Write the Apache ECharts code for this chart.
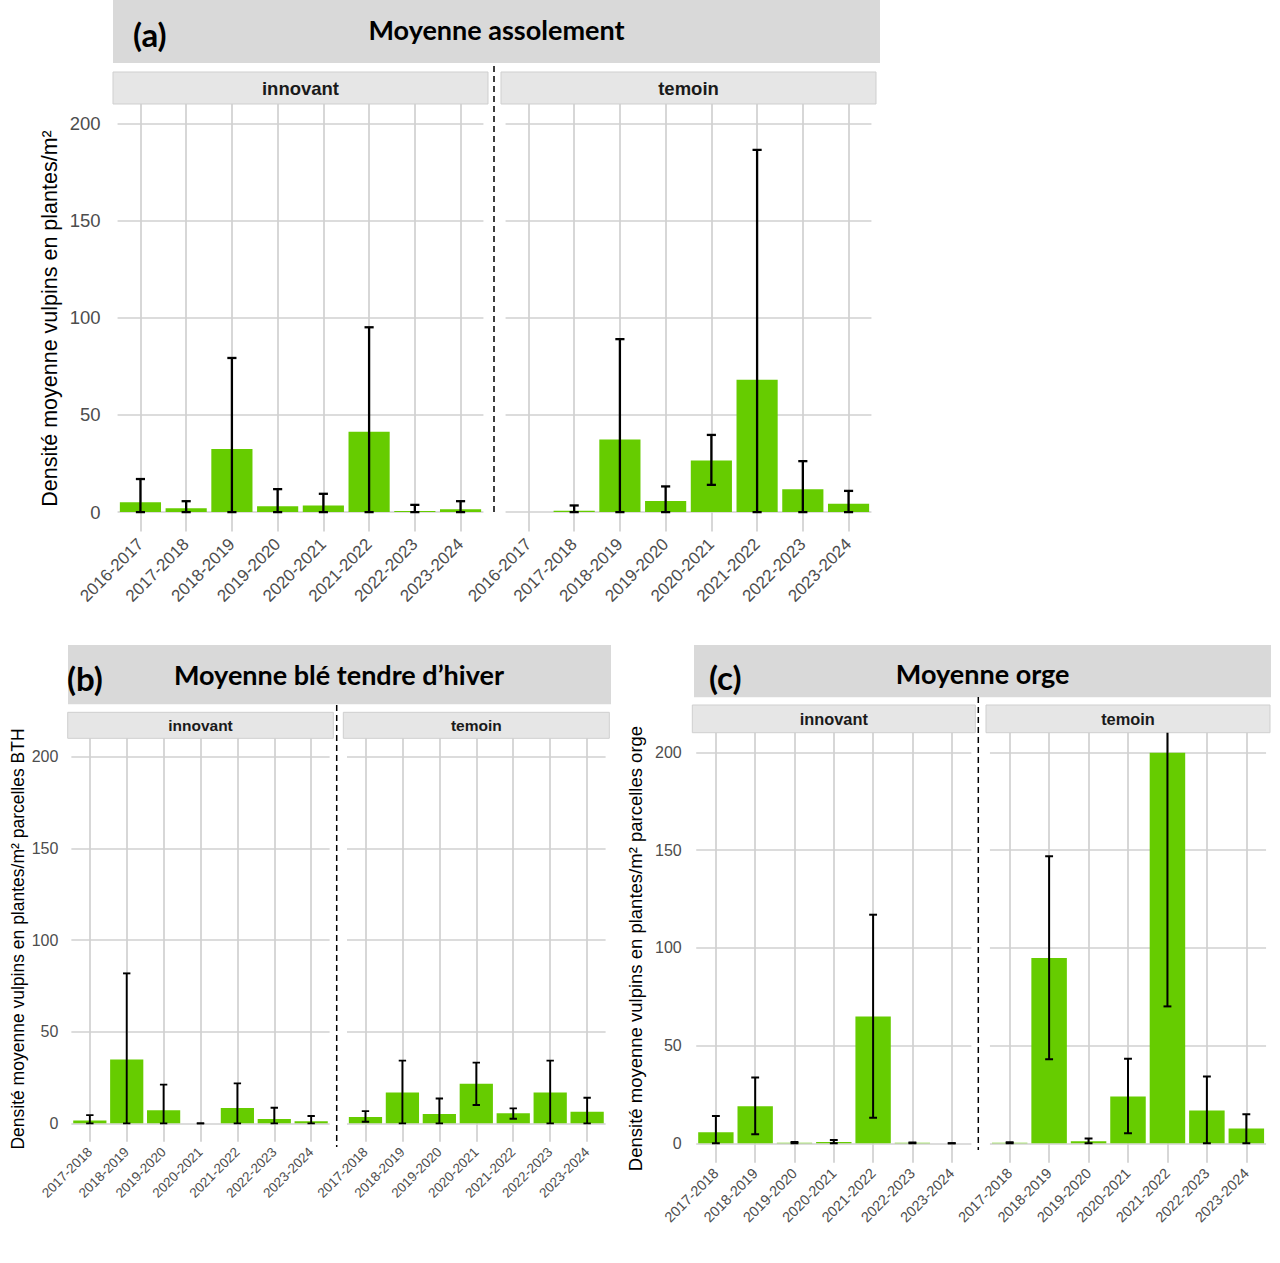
<!DOCTYPE html>
<html>
<head>
<meta charset="utf-8">
<script src="https://cdn.jsdelivr.net/npm/echarts@6/dist/echarts.min.js"></script>
<style>
  html, body { margin: 0; padding: 0; background: #fff; }
  #chart { width: 1280px; height: 1263px; }
</style>
</head>
<body>
<div id="chart"></div>
<script>
// categories
const seasonsA = ['2016-2017', '2017-2018', '2018-2019', '2019-2020', '2020-2021', '2021-2022', '2022-2023', '2023-2024'];
const seasonsBC = ['2017-2018', '2018-2019', '2019-2020', '2020-2021', '2021-2022', '2022-2023', '2023-2024'];
const yTicks = [0, 50, 100, 150, 200];

// (a) moyenne assolement
const aInnovMean = [5, 2, 32.4, 3, 3.4, 41.3, 0.5, 1.4];
const aInnovLow = [0, 0, 0, 0, 0, 0, 0, 0];
const aInnovHigh = [17, 5.6, 79.3, 11.8, 9.4, 95.1, 3.7, 5.6];
const aTemoinMean = [null, 0.7, 37.3, 5.7, 26.5, 68.1, 11.7, 4.3];
const aTemoinLow = [null, 0, 0, 0, 14, 0, 0, 0];
const aTemoinHigh = [null, 3.4, 89, 13.2, 39.7, 186.4, 26.2, 10.9];

// (b) blé tendre d'hiver
const bInnovMean = [1.5, 34.8, 7.1, 0, 8.4, 2.4, 1.2];
const bInnovLow = [0, 0, 0, 0, 0, 0, 0];
const bInnovHigh = [4.5, 81.8, 21.1, 0, 21.8, 8.5, 4];
const bTemoinMean = [3.5, 16.9, 5.1, 21.6, 5.5, 16.9, 6.4];
const bTemoinLow = [0.9, 0, 0, 10, 2.5, 0, 0];
const bTemoinHigh = [6.7, 34.2, 13.6, 33.1, 8.2, 34.2, 14];

// (c) orge
const cInnovMean = [5.6, 18.9, 0.3, 0.7, 64.8, 0.2, 0];
const cInnovLow = [0, 4.6, 0, 0, 13, 0, 0];
const cInnovHigh = [14, 33.6, 0.6, 1.7, 116.9, 0.4, 0];
const cTemoinMean = [0.2, 94.7, 1, 23.9, 199.7, 16.7, 7.5];
const cTemoinLow = [0, 43, 0, 5.1, 70, 0, 0];
const cTemoinHigh = [0.5, 146.8, 2.4, 43.2, 330, 34.1, 14.8];

const GREEN = '#66CC00';
const GRID_LINE = '#d0d0d0';
const AXIS_TEXT = '#4d4d4d';
const SANS = '"Liberation Sans", Arial, sans-serif';
const TITLE_FONT = 'Lato, "Open Sans", sans-serif';

const panels = [
  {
    tag: '(a)', title: 'Moyenne assolement',
    titleBox: [113, 0, 767, 63], tagX: 133, tagY: 34, titleX: 496.5, titleY: 29.5,
    yName: 'Densité moyenne vulpins en plantes/m²', yNameX: 50, yNameY: 318.5, yNameSize: 21.5,
    dash: [494, 66, 512],
    stripY: 72, stripH: 32, stripSize: 18.5,
    yLabSize: 18.5, yLabMargin: 17, xLabSize: 17, xLabMargin: 10, errWidth: 2.3,
    cats: seasonsA,
    facets: [
      { name: 'innovant', mean: aInnovMean, low: aInnovLow, high: aInnovHigh, box: [113, 104, 375, 427.5] },
      { name: 'temoin', mean: aTemoinMean, low: aTemoinLow, high: aTemoinHigh, box: [501, 104, 375, 427.5] }
    ]
  },
  {
    tag: '(b)', title: 'Moyenne blé tendre d\u2019hiver',
    titleBox: [68, 645, 543, 59.3], tagX: 67, tagY: 678, titleX: 339, titleY: 674,
    yName: 'Densité moyenne vulpins en plantes/m² parcelles BTH', yNameX: 18.3, yNameY: 939, yNameSize: 17.5,
    dash: [336.7, 705, 1147],
    stripY: 712.3, stripH: 26, stripSize: 15.5,
    yLabSize: 16, yLabMargin: 13, xLabSize: 13.5, xLabMargin: 8, errWidth: 1.9,
    cats: seasonsBC,
    facets: [
      { name: 'innovant', mean: bInnovMean, low: bInnovLow, high: bInnovHigh, box: [67.7, 738.3, 265.6, 403.4] },
      { name: 'temoin', mean: bTemoinMean, low: bTemoinLow, high: bTemoinHigh, box: [343.3, 738.3, 266, 403.4] }
    ]
  },
  {
    tag: '(c)', title: 'Moyenne orge',
    titleBox: [694, 645, 577, 52.3], tagX: 709, tagY: 677, titleX: 982.7, titleY: 673,
    yName: 'Densité moyenne vulpins en plantes/m² parcelles orge', yNameX: 635, yNameY: 948.5, yNameSize: 18.5,
    dash: [978.3, 697, 1150],
    stripY: 705, stripH: 27.7, stripSize: 16.4,
    yLabSize: 16, yLabMargin: 14.5, xLabSize: 14.5, xLabMargin: 8, errWidth: 2,
    cats: seasonsBC,
    facets: [
      { name: 'innovant', mean: cInnovMean, low: cInnovLow, high: cInnovHigh, box: [692.3, 732.7, 283, 430.1] },
      { name: 'temoin', mean: cTemoinMean, low: cTemoinLow, high: cTemoinHigh, box: [986, 732.7, 284, 430.1] }
    ]
  }
];

const grid = [], xAxis = [], yAxis = [], series = [], graphic = [];

function errRenderer(lw) {
  return function (params, api) {
    const lo = api.value(1), hi = api.value(2);
    if (isNaN(lo) || isNaN(hi)) return null;
    const i = api.value(0);
    const pLo = api.coord([i, lo]);
    const pHi = api.coord([i, hi]);
    const w = api.size([1, 0])[0] * 0.2;
    const style = { stroke: '#000', lineWidth: lw };
    return {
      type: 'group',
      children: [
        { type: 'line', shape: { x1: pLo[0], y1: pLo[1], x2: pHi[0], y2: pHi[1] }, style },
        { type: 'line', shape: { x1: pLo[0] - w / 2, y1: pLo[1], x2: pLo[0] + w / 2, y2: pLo[1] }, style },
        { type: 'line', shape: { x1: pHi[0] - w / 2, y1: pHi[1], x2: pHi[0] + w / 2, y2: pHi[1] }, style }
      ]
    };
  };
}

panels.forEach(p => {
  // title banner
  graphic.push({ type: 'rect', shape: { x: p.titleBox[0], y: p.titleBox[1], width: p.titleBox[2], height: p.titleBox[3] },
    style: { fill: '#d9d9d9' }, z: 1 });
  graphic.push({ type: 'text', x: p.tagX, y: p.tagY, z: 2,
    style: { text: p.tag, fontFamily: TITLE_FONT, fontWeight: 'bold', fontSize: 33, fill: '#000', align: 'left', verticalAlign: 'middle' } });
  graphic.push({ type: 'text', x: p.titleX, y: p.titleY, z: 2,
    style: { text: p.title, fontFamily: TITLE_FONT, fontWeight: 'bold', fontSize: 27, fill: '#000', align: 'center', verticalAlign: 'middle' } });
  // y axis title
  graphic.push({ type: 'text', x: p.yNameX, y: p.yNameY, rotation: Math.PI / 2, z: 2,
    style: { text: p.yName, fontFamily: SANS, fontSize: p.yNameSize, fill: '#000', align: 'center', verticalAlign: 'middle' } });
  // dashed separator
  graphic.push({ type: 'line', shape: { x1: p.dash[0], y1: p.dash[1], x2: p.dash[0], y2: p.dash[2] }, z: 5,
    style: { stroke: '#000', lineWidth: 1.5, lineDash: [6, 4] } });

  p.facets.forEach((f, k) => {
    const [bx, by, bw, bh] = f.box;
    const n = p.cats.length;
    const unit = bw / (n + 0.2);
    const gi = grid.length;
    // facet strip
    graphic.push({ type: 'rect', shape: { x: bx, y: p.stripY, width: bw, height: p.stripH }, z: 1,
      style: { fill: '#e6e6e6', stroke: '#cfcfcf', lineWidth: 1 } });
    graphic.push({ type: 'text', x: bx + bw / 2, y: p.stripY + p.stripH / 2, z: 2,
      style: { text: f.name, fontFamily: SANS, fontWeight: 'bold', fontSize: p.stripSize, fill: '#1a1a1a', align: 'center', verticalAlign: 'middle' } });

    grid.push({ left: bx + 0.1 * unit, top: by, width: n * unit, height: bh, containLabel: false });
    xAxis.push({
      type: 'category', gridIndex: gi, data: p.cats, boundaryGap: true,
      axisLine: { show: false, onZero: false }, axisTick: { show: false },
      axisLabel: { interval: 0, rotate: 45, fontSize: p.xLabSize, color: AXIS_TEXT, fontFamily: SANS, margin: p.xLabMargin },
      splitLine: { show: true, interval: 0, alignWithLabel: true, lineStyle: { color: GRID_LINE, width: 1.7 } }
    });
    yAxis.push({
      type: 'value', gridIndex: gi, min: -10, max: 210,
      axisLine: { show: false }, axisTick: { show: false, customValues: yTicks },
      axisLabel: { show: k === 0, customValues: yTicks, fontSize: p.yLabSize, color: AXIS_TEXT, fontFamily: SANS, margin: p.yLabMargin },
      splitLine: { show: true, lineStyle: { color: GRID_LINE, width: 1.7 } }
    });
    series.push({
      type: 'bar', xAxisIndex: gi, yAxisIndex: gi, data: f.mean, barWidth: '90%',
      itemStyle: { color: GREEN }, silent: true, z: 2
    });
    series.push({
      type: 'custom', xAxisIndex: gi, yAxisIndex: gi, clip: true, z: 3, silent: true,
      renderItem: errRenderer(p.errWidth),
      data: f.low.map((lo, i) => [i, lo, f.high[i]])
    });
  });
});

const chart = echarts.init(document.getElementById('chart'), null, { renderer: 'svg' });
chart.setOption({
  backgroundColor: '#fff',
  animation: false,
  grid, xAxis, yAxis, series, graphic
});
</script>
</body>
</html>
